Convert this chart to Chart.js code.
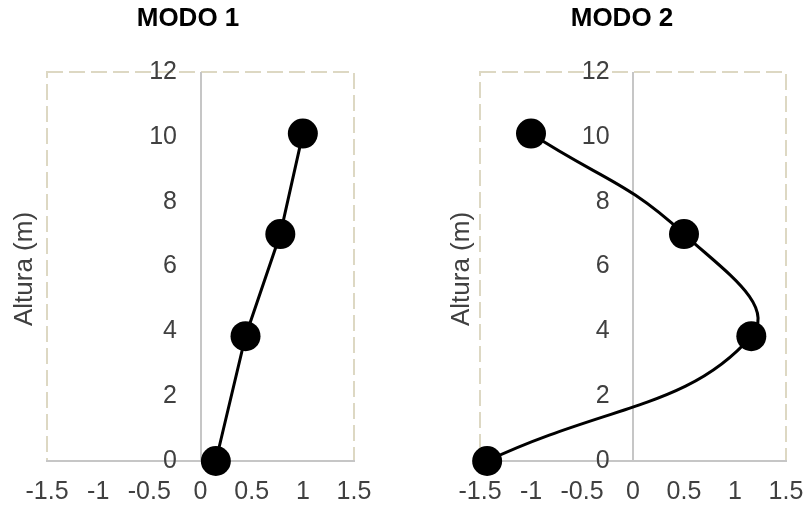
<!DOCTYPE html>
<html><head><meta charset="utf-8">
<script src="https://cdn.jsdelivr.net/npm/chart.js@4/dist/chart.umd.min.js"></script>
<style>
html,body{margin:0;padding:0;background:#fff;width:810px;height:512px;overflow:hidden}
.box{position:absolute;top:0;width:405px;height:512px}
</style></head><body>
<div class="box" style="left:0"><canvas id="c1" width="405" height="512"></canvas></div>
<div class="box" style="left:405px"><canvas id="c2" width="405" height="512"></canvas></div>
<script>
// ---- data ----
const heights = [0, 3.85, 7.0, 10.1];
const modo1X = [0.15, 0.44, 0.78, 1.0];
const modo2X = [-1.43, 1.16, 0.5, -1.0];
const xTicks = [-1.5, -1, -0.5, 0, 0.5, 1, 1.5];
const xTickLabels = ['-1.5', '-1', '-0.5', '0', '0.5', '1', '1.5'];
const yTicks = [0, 2, 4, 6, 8, 10, 12];
const yTickLabels = ['0', '2', '4', '6', '8', '10', '12'];
const chartTitles = ['MODO 1', 'MODO 2'];
const yAxisTitle = 'Altura (m)';

const FONT = '"Liberation Sans", Arial, sans-serif';
const TICK_COLOR = '#404040';
const AXIS_COLOR = '#c6c6c6';
const CLEAR = 'rgba(0,0,0,0)';

function decor(title, titleX, yTitleX) {
  return {
    id: 'decor',
    beforeDraw(chart) {
      const {ctx, chartArea: a} = chart;
      ctx.save();
      ctx.strokeStyle = '#ddd8c3';
      ctx.lineWidth = 2;
      ctx.setLineDash([16, 6]);
      ctx.strokeRect(a.left, a.top, a.right - a.left, a.bottom - a.top);
      ctx.restore();
    },
    afterDraw(chart) {
      const ctx = chart.ctx;
      ctx.save();
      ctx.fillStyle = '#000';
      ctx.font = 'bold 26px ' + FONT;
      ctx.textAlign = 'center';
      ctx.textBaseline = 'middle';
      ctx.fillText(title, titleX, 19);
      ctx.translate(yTitleX, 269);
      ctx.rotate(-Math.PI / 2);
      ctx.fillStyle = TICK_COLOR;
      ctx.font = '26px ' + FONT;
      ctx.fillText(yAxisTitle, 0, 0);
      ctx.restore();
    }
  };
}

function makeChart(id, xs, tension, pad, title, titleX, yTitleX) {
  const pts = xs.map((x, i) => ({x: x, y: heights[i]}));
  return new Chart(document.getElementById(id), {
    type: 'scatter',
    data: {datasets: [{
      data: pts,
      showLine: true,
      tension: tension,
      borderColor: '#000',
      borderWidth: 3,
      pointRadius: 15,
      pointHoverRadius: 15,
      pointBackgroundColor: '#000',
      pointBorderWidth: 0,
      clip: false
    }]},
    options: {
      responsive: false,
      animation: false,
      events: [],
      layout: {padding: pad},
      plugins: {legend: {display: false}, tooltip: {enabled: false}, title: {display: false}},
      scales: {
        x: {
          type: 'linear', min: -1.5, max: 1.5,
          position: {y: 0},
          afterBuildTicks: s => { s.ticks = xTicks.map(v => ({value: v})); },
          ticks: {
            callback: v => xTickLabels[xTicks.indexOf(v)],
            font: {family: FONT, size: 25}, color: TICK_COLOR,
            padding: 0, maxRotation: 0, autoSkip: false
          },
          grid: {
            display: true, drawTicks: true, tickLength: 16, tickColor: CLEAR,
            color: c => (c.tick && c.tick.value === 0) ? AXIS_COLOR : CLEAR,
            lineWidth: 2
          },
          border: {display: true, color: AXIS_COLOR, width: 2}
        },
        y: {
          type: 'linear', min: 0, max: 12,
          position: {x: -0.23},
          afterBuildTicks: s => { s.ticks = yTicks.map(v => ({value: v})); },
          ticks: {
            callback: v => yTickLabels[yTicks.indexOf(v)],
            font: {family: FONT, size: 25}, color: TICK_COLOR,
            padding: 0, autoSkip: false
          },
          grid: {display: false, drawTicks: false},
          border: {display: false}
        }
      }
    },
    plugins: [decor(title, titleX, yTitleX)]
  });
}

makeChart('c1', modo1X, 0, {left: 47, right: 51, top: 72, bottom: 51}, chartTitles[0], 188, 25);
makeChart('c2', modo2X, 0.45, {left: 75, right: 24, top: 72, bottom: 51}, chartTitles[1], 217, 57);
</script>
</body></html>
